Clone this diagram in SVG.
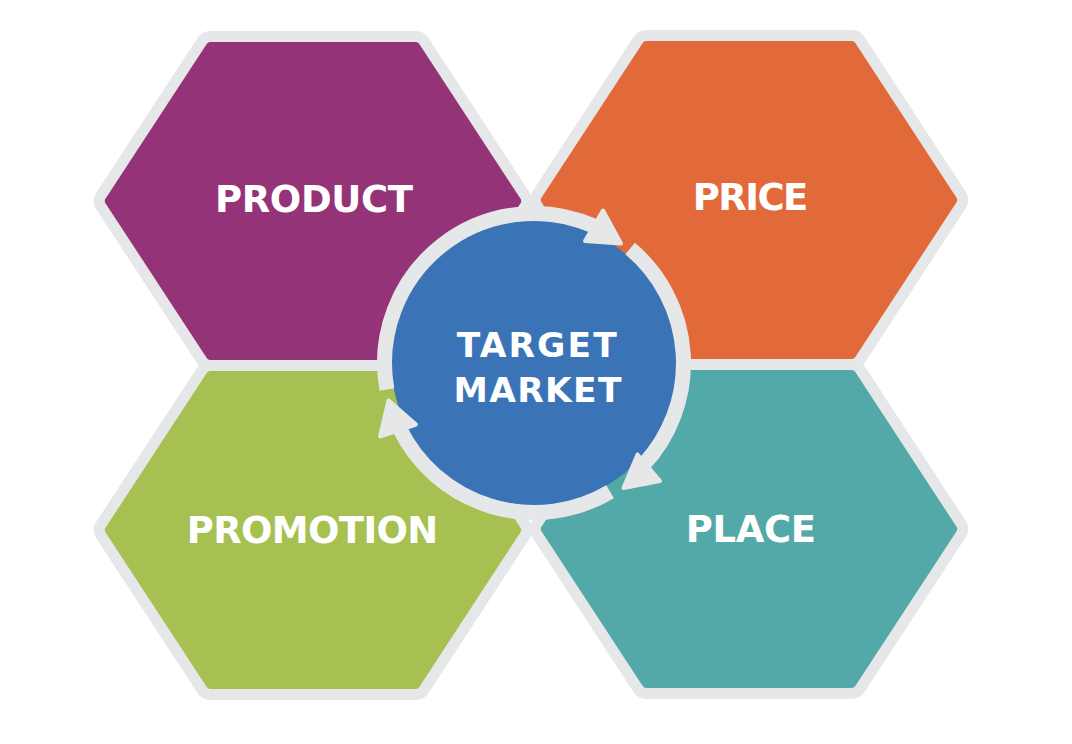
<svg xmlns="http://www.w3.org/2000/svg" xmlns:xlink="http://www.w3.org/1999/xlink" width="1072" height="744" viewBox="0 0 1072 744">
  <style>
    .border { fill: #e6e7e8; stroke: #e6e7e8; stroke-width: 30; stroke-linejoin: round; }
    .fill { stroke-width: 8; stroke-linejoin: round; }
    .product { fill: #943378; stroke: #943378; }
    .price { fill: #e2693a; stroke: #e2693a; }
    .promotion { fill: #a7c052; stroke: #a7c052; }
    .place { fill: #53a8a8; stroke: #53a8a8; }
    .label { font-family: "DejaVu Sans", "Liberation Sans", sans-serif; font-weight: bold; fill: #ffffff; text-anchor: middle; }
    .hexlabel { font-size: 37px; }
    .centerlabel { font-size: 34.5px; }
    .ring { fill: none; stroke: #e6e7e8; stroke-width: 15; stroke-linecap: butt; }
    .head { fill: #e6e7e8; stroke: #e6e7e8; stroke-width: 4; stroke-linejoin: round; }
  </style>
  <defs>
    <polygon id="hex" points="-102.8,-155 102.8,-155 204.2,0 102.8,155 -102.8,155 -204.2,0"/>
  </defs>
  <rect width="1072" height="744" fill="#ffffff"/>

  <g id="product">
    <use xlink:href="#hex" href="#hex" class="border" transform="translate(313,201)"/>
    <use xlink:href="#hex" href="#hex" class="fill product" transform="translate(313,201)"/>
    <text class="label hexlabel" x="314" y="211.5" textLength="198">PRODUCT</text>
  </g>

  <g id="price">
    <use xlink:href="#hex" href="#hex" class="border" transform="translate(749,200)"/>
    <use xlink:href="#hex" href="#hex" class="fill price" transform="translate(749,200)"/>
    <text class="label hexlabel" x="750.5" y="209.5" textLength="115.6">PRICE</text>
  </g>

  <g id="promotion">
    <use xlink:href="#hex" href="#hex" class="border" transform="translate(313,530)"/>
    <use xlink:href="#hex" href="#hex" class="fill promotion" transform="translate(313,530)"/>
    <text class="label hexlabel" x="312.5" y="543.3" textLength="251.6">PROMOTION</text>
  </g>

  <g id="place">
    <use xlink:href="#hex" href="#hex" class="border" transform="translate(749,529)"/>
    <use xlink:href="#hex" href="#hex" class="fill place" transform="translate(749,529)"/>
    <text class="label hexlabel" x="751" y="541.7" textLength="130.3">PLACE</text>
  </g>

  <g id="target-market">
    <circle cx="534" cy="363" r="142.5" fill="#3a74b6"/>
    <text class="label centerlabel" x="536.7" y="356.7" textLength="160">TARGET</text>
    <text class="label centerlabel" x="537.5" y="401.7" textLength="168">MARKET</text>
  </g>

  <g id="connectors">
    <path class="ring" d="M630.1,248.5 A149.5,149.5 0 0 1 643.3,465.0"/>
    <path class="ring" d="M610.1,491.7 A149.5,149.5 0 0 1 399.6,428.5"/>
    <path class="ring" d="M386.9,389.5 A149.5,149.5 0 0 1 594.8,226.4"/>
    <polygon class="head" points="603,210.5 585,241 621,243.5"/>
    <polygon class="head" points="637.5,454.5 660,481 623.5,488"/>
    <polygon class="head" points="380,436.5 416,424.5 388.5,400.5"/>
  </g>
</svg>
